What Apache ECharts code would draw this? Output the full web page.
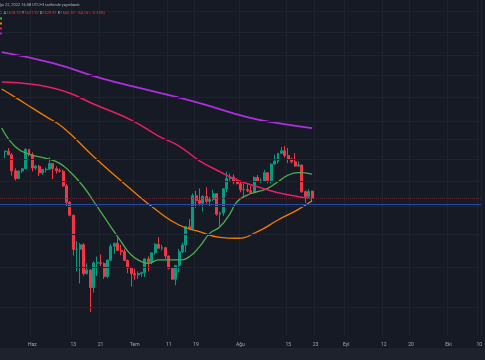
<!DOCTYPE html>
<html><head><meta charset="utf-8">
<script src="https://cdn.jsdelivr.net/npm/echarts@6/dist/echarts.min.js"></script>
<style>html,body{margin:0;padding:0;background:#161a25;overflow:hidden}#c{width:485px;height:360px}</style>
</head><body><div id="c"></div>
<script>
// day index 0 = May 23 2022, candles from May 24 (index 1) to Aug 22 (index 91)
const tickLabels = [[9,'Haz'],[21,'13'],[29,'21'],[39,'Tem'],[49,'11'],[57,'19'],[70,'Ağu'],[84,'15'],[92,'23'],[101,'Eyl'],[112,'12'],[120,'20'],[131,'Eki'],[140,'10']];
const opens  = [1974,1978,1942,1792,1724,1791,1811,1996,1942,1818,1834,1775,1803,1806,1859,1812,1793,1789,1661,1529,1433,1207,1208,1235,1068,1088,995,1127,1128,1124,1052,1143,1225,1244,1200,1193,1141,1098,1067,1060,1068,1073,1150,1133,1186,1238,1213,1217,1167,1097,1038,1113,1192,1233,1353,1339,1581,1543,1522,1575,1537,1551,1597,1440,1450,1638,1724,1736,1696,1680,1632,1632,1620,1607,1733,1697,1702,1775,1705,1853,1880,1957,1982,1935,1901,1875,1836,1846,1613,1575,1618];
const closes = [1978,1942,1792,1724,1791,1811,1996,1942,1818,1834,1775,1803,1806,1859,1812,1793,1789,1661,1529,1433,1207,1208,1235,1068,1088,995,1127,1128,1124,1052,1143,1225,1244,1200,1193,1141,1098,1067,1060,1068,1073,1150,1133,1186,1238,1213,1217,1167,1097,1038,1113,1192,1233,1353,1339,1581,1543,1522,1575,1537,1551,1597,1440,1450,1638,1724,1736,1696,1680,1632,1632,1620,1607,1733,1697,1702,1775,1705,1853,1880,1957,1982,1935,1901,1875,1836,1846,1613,1575,1614,1561];
const lows   = [1911,1940,1748,1706,1718,1774,1811,1926,1787,1800,1745,1757,1776,1805,1720,1767,1776,1654,1502,1425,1170,1080,1016,1057,1063,880,970,1055,1110,1040,1043,1136,1180,1197,1172,1140,1070,1000,1035,1040,1050,1050,1080,1120,1175,1210,1200,1150,1090,1036,1007,1075,1185,1190,1330,1330,1487,1505,1460,1520,1500,1540,1430,1356,1428,1609,1695,1675,1673,1609,1564,1610,1598,1605,1695,1686,1695,1683,1680,1853,1858,1955,1915,1865,1860,1830,1830,1605,1525,1560,1530];
const highs  = [1985,2010,1960,1814,1795,1816,2010,2000,1966,1845,1847,1806,1823,1920,1862,1832,1814,1804,1676,1540,1437,1258,1246,1245,1125,1090,1136,1164,1176,1130,1147,1240,1248,1280,1235,1210,1147,1106,1095,1080,1078,1155,1165,1188,1245,1283,1235,1220,1170,1101,1115,1210,1248,1358,1405,1600,1620,1640,1585,1650,1570,1630,1600,1458,1640,1784,1768,1760,1726,1697,1683,1680,1662,1743,1755,1725,1800,1778,1860,1945,1961,2020,2030,2010,1915,1960,1880,1850,1623,1635,1622];
// moving averages read at sample days [dayIndex, price]
const ma20  = [[0,2223],[4,2023],[8,1950],[13,1908],[17,1861],[20,1784],[24,1654],[28,1496],[32,1352],[35,1254],[38,1173],[41,1134],[43,1125],[46,1144],[52,1144],[55,1163],[58,1223],[61,1308],[64,1352],[67,1447],[69,1534],[72,1586],[75,1613],[78,1641],[81,1696],[84,1754],[87,1775],[91,1763]];
const ma50  = [[0,2705],[4,2594],[9,2458],[13,2354],[18,2229],[27,1924],[37,1654],[46,1458],[52,1364],[58,1319],[64,1282],[69,1276],[75,1319],[81,1399],[87,1476],[91,1541]];
const ma100 = [[0,2802],[15,2719],[29,2471],[38,2314],[46,2135],[52,2030],[58,1885],[64,1784],[69,1711],[75,1654],[81,1605],[87,1573],[91,1557]];
const ma200 = [[0,3259],[15,3083],[29,2859],[43,2691],[58,2521],[72,2349],[81,2279],[91,2223]];
const gridPrices = [900,1100,1300,1500,1700,1900,2100,2300,2600,2900,3200,3600,4000];
const bluePrice = 1514;
const lastPrice = 1560.57;

const N = 141;
const cats = [];
for (let i = 0; i < N; i++) cats.push('d' + i);
const labelMap = {};
tickLabels.forEach(t => labelMap[t[0]] = t[1]);
const candles = [['-','-','-','-']];
for (let i = 0; i < opens.length; i++) candles.push([opens[i], closes[i], lows[i], highs[i]]);

const chart = echarts.init(document.getElementById('c'), null, {renderer: 'canvas'});
const bw = 3.47;
chart.setOption({
  backgroundColor: '#161a25',
  animation: false,
  grid: {left: -0.57 - bw / 2, width: N * bw, top: 0, bottom: 24},
  xAxis: {
    type: 'category', data: cats, boundaryGap: true,
    axisLine: {show: false}, axisTick: {show: false},
    axisLabel: {
      interval: (idx) => labelMap[idx] !== undefined,
      formatter: (v, idx) => labelMap[idx] || '',
      color: '#a3a6af', fontSize: 5, fontFamily: 'Roboto', margin: 6
    },
    splitLine: {show: true, interval: (idx) => labelMap[idx] !== undefined, lineStyle: {color: '#1f2330', width: 1}}
  },
  yAxis: {type: 'log', min: 780, max: 4236, show: false},
  graphic: [
    {type: 'rect', shape: {x: 0, y: 348, width: 485, height: 12}, style: {fill: '#1e222d'}, z: 100},
    {type: 'text', left: -3, top: 2.5, style: {text: 'Ağu 22, 2022 16:08 UTC+3 tarihinde yayınlandı', fill: '#b2b5be', font: '4px Roboto'}, z: 100},
    {type: 'rect', shape: {x: 0, y: 17.5, width: 2, height: 2}, style: {fill: '#4caf50'}, z: 100},
    {type: 'rect', shape: {x: 0, y: 22.5, width: 2, height: 2}, style: {fill: '#f57c00'}, z: 100},
    {type: 'rect', shape: {x: 0, y: 27.5, width: 2, height: 2}, style: {fill: '#e91e63'}, z: 100},
    {type: 'rect', shape: {x: 0, y: 32.5, width: 2, height: 2}, style: {fill: '#9c27b0'}, z: 100},
    {type: 'text', left: -1, top: 11, style: {
      rich: {g: {fill: '#b2b5be', font: '4px Roboto'}, r: {fill: '#f23645', font: '4px Roboto'}},
      text: '{g|C  A}{r|1618.10}{g| Y}{r|1621.97}{g| D}{r|1529.91}{g| K}{r|1560.57}{r| −54.16 (−3.35%)}'}, z: 100}
  ],
  series: [
    {type: 'line', data: gridPrices.map(p => ['d140', p]), symbol: 'none', lineStyle: {opacity: 0},
     markLine: {silent: true, symbol: 'none', label: {show: false}, lineStyle: {color: '#1f2330', width: 1, type: 'solid'},
       data: gridPrices.map(p => ({yAxis: p}))}},
    {type: 'candlestick', data: candles, barWidth: '72%',
     itemStyle: {color: '#089981', color0: '#f23645', borderColor: '#089981', borderColor0: '#f23645', borderWidth: 1}},
    {type: 'line', data: ma20, smooth: true, symbol: 'none', lineStyle: {color: '#4caf50', width: 1.3}},
    {type: 'line', data: ma50, smooth: true, symbol: 'none', lineStyle: {color: '#f57c00', width: 1.3}},
    {type: 'line', data: ma100, smooth: true, symbol: 'none', lineStyle: {color: '#e91e63', width: 1.5}},
    {type: 'line', data: ma200, smooth: true, symbol: 'none', lineStyle: {color: '#b02ee0', width: 1.8}},
    {type: 'line', data: [], symbol: 'none',
     markLine: {silent: true, symbol: 'none', label: {show: false},
       data: [{yAxis: bluePrice, lineStyle: {color: '#2a4aa0', width: 1, type: 'solid'}},
              {yAxis: lastPrice, lineStyle: {color: '#5c2432', width: 1, type: 'dotted'}}]}}
  ]
});
</script></body></html>
